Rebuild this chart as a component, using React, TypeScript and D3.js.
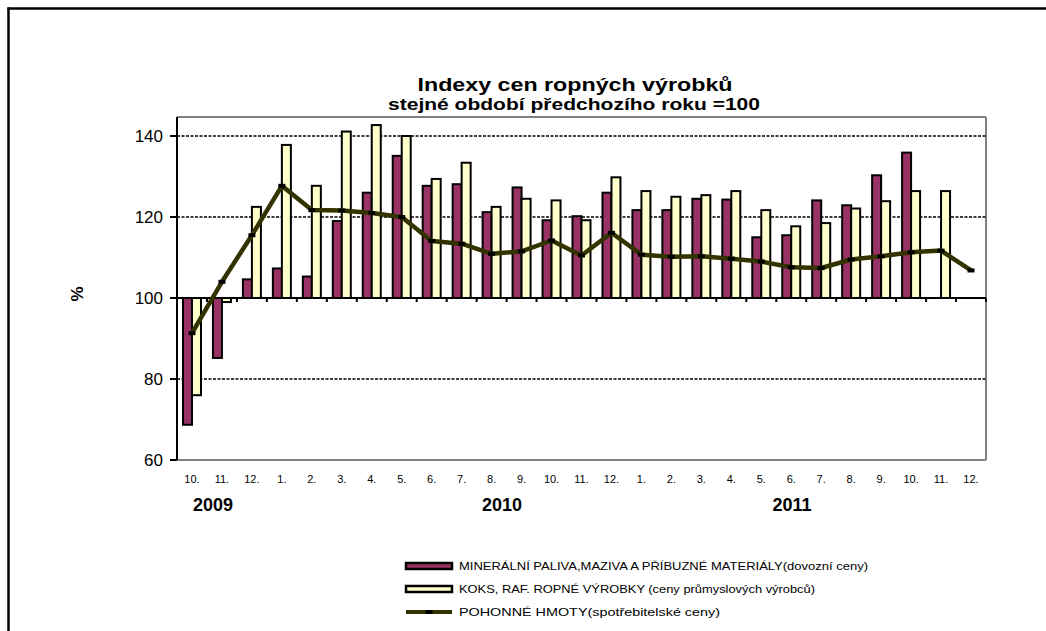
import React from "react";
import * as d3 from "d3";

const months = ["10.", "11.", "12.", "1.", "2.", "3.", "4.", "5.", "6.", "7.", "8.", "9.", "10.", "11.", "12.", "1.", "2.", "3.", "4.", "5.", "6.", "7.", "8.", "9.", "10.", "11.", "12."];
const years = [
  { label: "2009", x: 213 },
  { label: "2010", x: 502 },
  { label: "2011", x: 792 },
];
const mineral: (number | null)[] = [68.7, 85.2, 104.6, 107.3, 105.3, 119.0, 126.0, 135.1, 127.7, 128.1, 121.2, 127.3, 119.2, 120.2, 126.0, 121.7, 121.7, 124.5, 124.3, 115.0, 115.5, 124.1, 122.9, 130.3, 135.9, null, null];
const koks: (number | null)[] = [76.0, 99.0, 122.5, 137.8, 127.7, 141.1, 142.7, 140.0, 129.4, 133.4, 122.5, 124.5, 124.1, 119.2, 129.8, 126.4, 125.0, 125.4, 126.4, 121.7, 117.7, 118.5, 122.1, 123.9, 126.4, 126.4, null];
const fuel: number[] = [91.3, 104.0, 115.5, 127.7, 121.7, 121.6, 121.0, 120.0, 114.1, 113.4, 110.9, 111.5, 114.2, 110.5, 116.1, 110.7, 110.2, 110.3, 109.7, 109.0, 107.6, 107.4, 109.5, 110.3, 111.3, 111.7, 106.8];
const yTicks = [60, 80, 100, 120, 140];
const gridDashed = [80, 120, 140];

const legendItems = [
  { label: "MINERÁLNÍ PALIVA,MAZIVA A PŘÍBUZNÉ MATERIÁLY(dovozní  ceny)", type: "bar", color: "#993366", w: 409 },
  { label: "KOKS, RAF. ROPNÉ VÝROBKY (ceny průmyslových výrobců)", type: "bar", color: "#FFFFCC", w: 356 },
  { label: "POHONNÉ HMOTY(spotřebitelské ceny)", type: "line", color: "#333300", w: 261 },
];

const W = 1046;
const H = 631;
const plot = { left: 177, right: 986, top: 117, bottom: 460 };
const FONT = "'Liberation Sans', Arial, sans-serif";

export default function App() {
  const idx = months.map((_, i) => i);
  const x = d3.scaleBand<number>().domain(idx).range([plot.left, plot.right]).padding(0);
  const y = d3.scaleLinear().domain([60, 140]).range([plot.bottom, 136]);
  const bw = x.bandwidth();
  const barW = 9;
  const cx = (i: number) => (x(i) as number) + bw / 2;
  const base = y(100);

  const line = d3
    .line<number>()
    .x((_, i) => cx(i))
    .y((d) => y(d));

  return (
    <svg width={W} height={H} style={{ position: "absolute", left: 0, top: 0, background: "#fff" }} fontFamily={FONT}>
      {/* outer frame */}
      <line x1={7.5} y1={8.5} x2={W} y2={8.5} stroke="#000" strokeWidth={2.5} />
      <line x1={8.5} y1={7.5} x2={8.5} y2={H} stroke="#000" strokeWidth={2.5} />

      {/* title */}
      <text x={575} y={91} textAnchor="middle" fontWeight="bold" fontSize={19} textLength={315} lengthAdjust="spacingAndGlyphs">
        Indexy cen  ropných  výrobků
      </text>
      <text x={574} y={110} textAnchor="middle" fontWeight="bold" fontSize={17} textLength={372} lengthAdjust="spacingAndGlyphs">
        stejné období předchozího roku =100
      </text>

      {/* plot border (gray) */}
      <line x1={plot.left} y1={plot.top} x2={plot.right} y2={plot.top} stroke="#808080" strokeWidth={2} />
      <line x1={plot.right} y1={plot.top} x2={plot.right} y2={plot.bottom} stroke="#808080" strokeWidth={2} />
      <line x1={plot.left} y1={plot.bottom} x2={plot.right} y2={plot.bottom} stroke="#808080" strokeWidth={2} />

      {/* dashed gridlines */}
      {gridDashed.map((v) => (
        <line key={v} x1={plot.left} x2={plot.right} y1={y(v)} y2={y(v)} stroke="#000" strokeWidth={1.6} strokeDasharray="3,1.5" />
      ))}

      {/* bars */}
      {mineral.map((v, i) =>
        v == null ? null : (
          <rect
            key={"m" + i}
            x={cx(i) - barW}
            y={Math.min(y(v), base)}
            width={barW}
            height={Math.abs(y(v) - base)}
            fill="#993366"
            stroke="#000"
            strokeWidth={2}
          />
        )
      )}
      {koks.map((v, i) =>
        v == null ? null : (
          <rect
            key={"k" + i}
            x={cx(i)}
            y={Math.min(y(v), base)}
            width={barW}
            height={Math.abs(y(v) - base)}
            fill="#FFFFCC"
            stroke="#000"
            strokeWidth={2}
          />
        )
      )}

      {/* category axis at 100 */}
      <line x1={plot.left} x2={plot.right} y1={base} y2={base} stroke="#000" strokeWidth={2} />
      {idx.slice(1).map((i) => (
        <line key={"t" + i} x1={x(i) as number} x2={x(i) as number} y1={base} y2={base + 4} stroke="#000" strokeWidth={2} />
      ))}
      <line x1={plot.right} x2={plot.right} y1={base} y2={base + 4} stroke="#000" strokeWidth={2} />

      {/* value axis */}
      <line x1={plot.left} x2={plot.left} y1={plot.top} y2={plot.bottom} stroke="#000" strokeWidth={2} />
      {yTicks.map((v) => (
        <g key={"y" + v}>
          <line x1={plot.left - 7} x2={plot.left} y1={y(v)} y2={y(v)} stroke="#000" strokeWidth={2} />
          <text x={163} y={y(v) + 6} textAnchor="end" fontSize={17}>
            {v}
          </text>
        </g>
      ))}

      {/* line series */}
      <path d={line(fuel) || ""} fill="none" stroke="#333300" strokeWidth={4.5} strokeLinejoin="round" />
      {fuel.map((v, i) => (
        <rect key={"p" + i} x={cx(i) - 3.5} y={y(v) - 2} width={7} height={4} fill="#000" />
      ))}

      {/* month labels */}
      {months.map((m, i) => (
        <text key={"ml" + i} x={cx(i)} y={483} textAnchor="middle" fontSize={11}>
          {m}
        </text>
      ))}
      {years.map((yr) => (
        <text key={yr.label} x={yr.x} y={511} textAnchor="middle" fontSize={18} fontWeight="bold">
          {yr.label}
        </text>
      ))}

      {/* y-axis title */}
      <text transform="translate(83,294) rotate(-90)" textAnchor="middle" fontSize={17} fontWeight="bold">
        %
      </text>

      {/* legend */}
      {legendItems.map((it, k) => {
        const ly = 566 + k * 23;
        return (
          <g key={"lg" + k}>
            {it.type === "bar" ? (
              <rect x={406} y={ly - 3} width={46} height={6} fill={it.color} stroke="#000" strokeWidth={2.5} />
            ) : (
              <g>
                <line x1={406} x2={452} y1={ly} y2={ly} stroke={it.color} strokeWidth={4} />
                <rect x={425.5} y={ly - 2} width={7} height={4} fill="#000" />
              </g>
            )}
            <text x={459} y={ly + 4} fontSize={11} textLength={it.w} lengthAdjust="spacingAndGlyphs">
              {it.label}
            </text>
          </g>
        );
      })}
    </svg>
  );
}
